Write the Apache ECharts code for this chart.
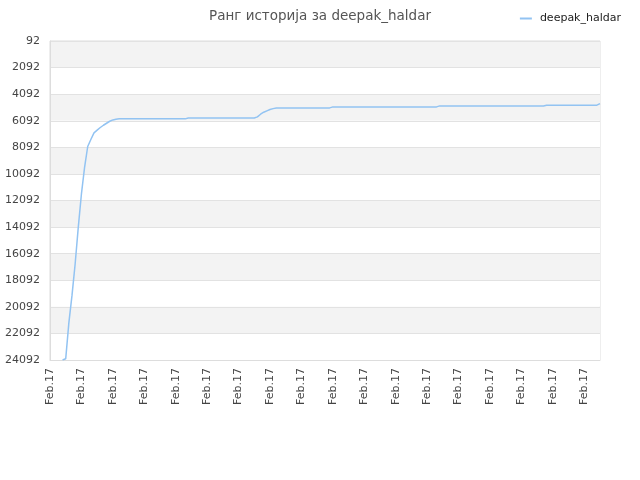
<!DOCTYPE html>
<html>
<head>
<meta charset="utf-8">
<script src="https://cdn.jsdelivr.net/npm/echarts@6/dist/echarts.min.js"></script>
<style>
  html, body { margin: 0; padding: 0; background: #fff; }
  #main { width: 640px; height: 480px; }
</style>
</head>
<body>
<div id="main"></div>
<script>
// подаци
var seriesName = 'deepak_haldar';
var rankValues = [
  '-', '-', '-', '-', 24092, 24000, 21300, 19230, 16870, 14092,
  11600, 9600, 8030, 7500, 7000, 6800, 6600, 6430, 6280, 6130,
  6030, 5980,
  5950, 5950, 5950, 5950, 5950, 5950, 5950, 5950, 5950, 5950,
  5950, 5950, 5950, 5950, 5950, 5950, 5950, 5950, 5950, 5950, 5950, 5950,
  5880, 5880, 5880, 5880, 5880, 5880, 5880, 5880, 5880, 5880,
  5880, 5880, 5880, 5880, 5880, 5880, 5880, 5880, 5880, 5880, 5880, 5880,
  5800, 5600, 5450, 5350, 5250, 5180, 5125,
  5125, 5125, 5125, 5125, 5125, 5125, 5125, 5125, 5125, 5125,
  5125, 5125, 5125, 5125, 5125, 5125, 5125,
  5050, 5050, 5050, 5050, 5050, 5050, 5050, 5050, 5050, 5050,
  5050, 5050, 5050, 5050, 5050, 5050, 5050, 5050, 5050, 5050,
  5050, 5050, 5050, 5050, 5050, 5050, 5050, 5050, 5050, 5050,
  5050, 5050, 5050, 5050,
  4975, 4975, 4975, 4975, 4975, 4975, 4975, 4975, 4975, 4975,
  4975, 4975, 4975, 4975, 4975, 4975, 4975, 4975, 4975, 4975,
  4975, 4975, 4975, 4975, 4975, 4975, 4975, 4975, 4975, 4975,
  4975, 4975, 4975, 4975,
  4920, 4920, 4920, 4920, 4920, 4920, 4920, 4920, 4920, 4920,
  4920, 4920, 4920, 4920, 4920, 4920, 4920,
  4800
];
var dateLabels = rankValues.map(function () { return 'Feb.17'; });
var yMin = 92;
var yMax = 24092;
var yStep = 2000;

var myChart = echarts.init(document.getElementById('main'));
var option = {
  backgroundColor: '#fff',
  textStyle: { fontFamily: 'DejaVu Sans' },
  title: {
    text: 'Ранг историја за ' + seriesName,
    left: 'center',
    top: 4,
    textStyle: { fontSize: 13.5, fontWeight: 'normal', color: '#555', fontFamily: 'DejaVu Sans' }
  },
  legend: {
    right: 14,
    top: 8,
    itemWidth: 12,
    itemHeight: 2,
    itemGap: 10,
    icon: 'rect',
    textStyle: { fontSize: 11, color: '#222', fontFamily: 'DejaVu Sans', padding: [0, 0, 0, 3] },
    data: [seriesName]
  },
  grid: {
    left: 50,
    right: 40,
    top: 41,
    bottom: 120,
    show: true,
    borderColor: '#ddd',
    borderWidth: 1
  },
  xAxis: {
    type: 'category',
    boundaryGap: false,
    data: dateLabels,
    axisLine: { lineStyle: { color: '#ddd' } },
    axisTick: { show: false },
    axisLabel: {
      interval: 9,
      rotate: 90,
      fontSize: 11,
      color: '#444',
      margin: 8
    },
    splitLine: { show: false }
  },
  yAxis: {
    type: 'value',
    inverse: true,
    min: yMin,
    max: yMax,
    interval: yStep,
    axisLine: { show: true, lineStyle: { color: '#ddd' } },
    axisTick: { show: false },
    axisLabel: {
      fontSize: 11,
      color: '#444',
      margin: 10,
      formatter: function (v) { return String(v); }
    },
    splitLine: { show: true, lineStyle: { color: '#e2e2e2' } },
    splitArea: { show: true, areaStyle: { color: ['#f3f3f3', '#ffffff'] } }
  },
  series: [
    {
      name: seriesName,
      type: 'line',
      data: rankValues,
      showSymbol: false,
      symbol: 'none',
      connectNulls: false,
      itemStyle: { color: '#92c3f2' },
      lineStyle: { color: '#92c3f2', width: 1.5 }
    }
  ]
};
myChart.setOption(option);
</script>
</body>
</html>
